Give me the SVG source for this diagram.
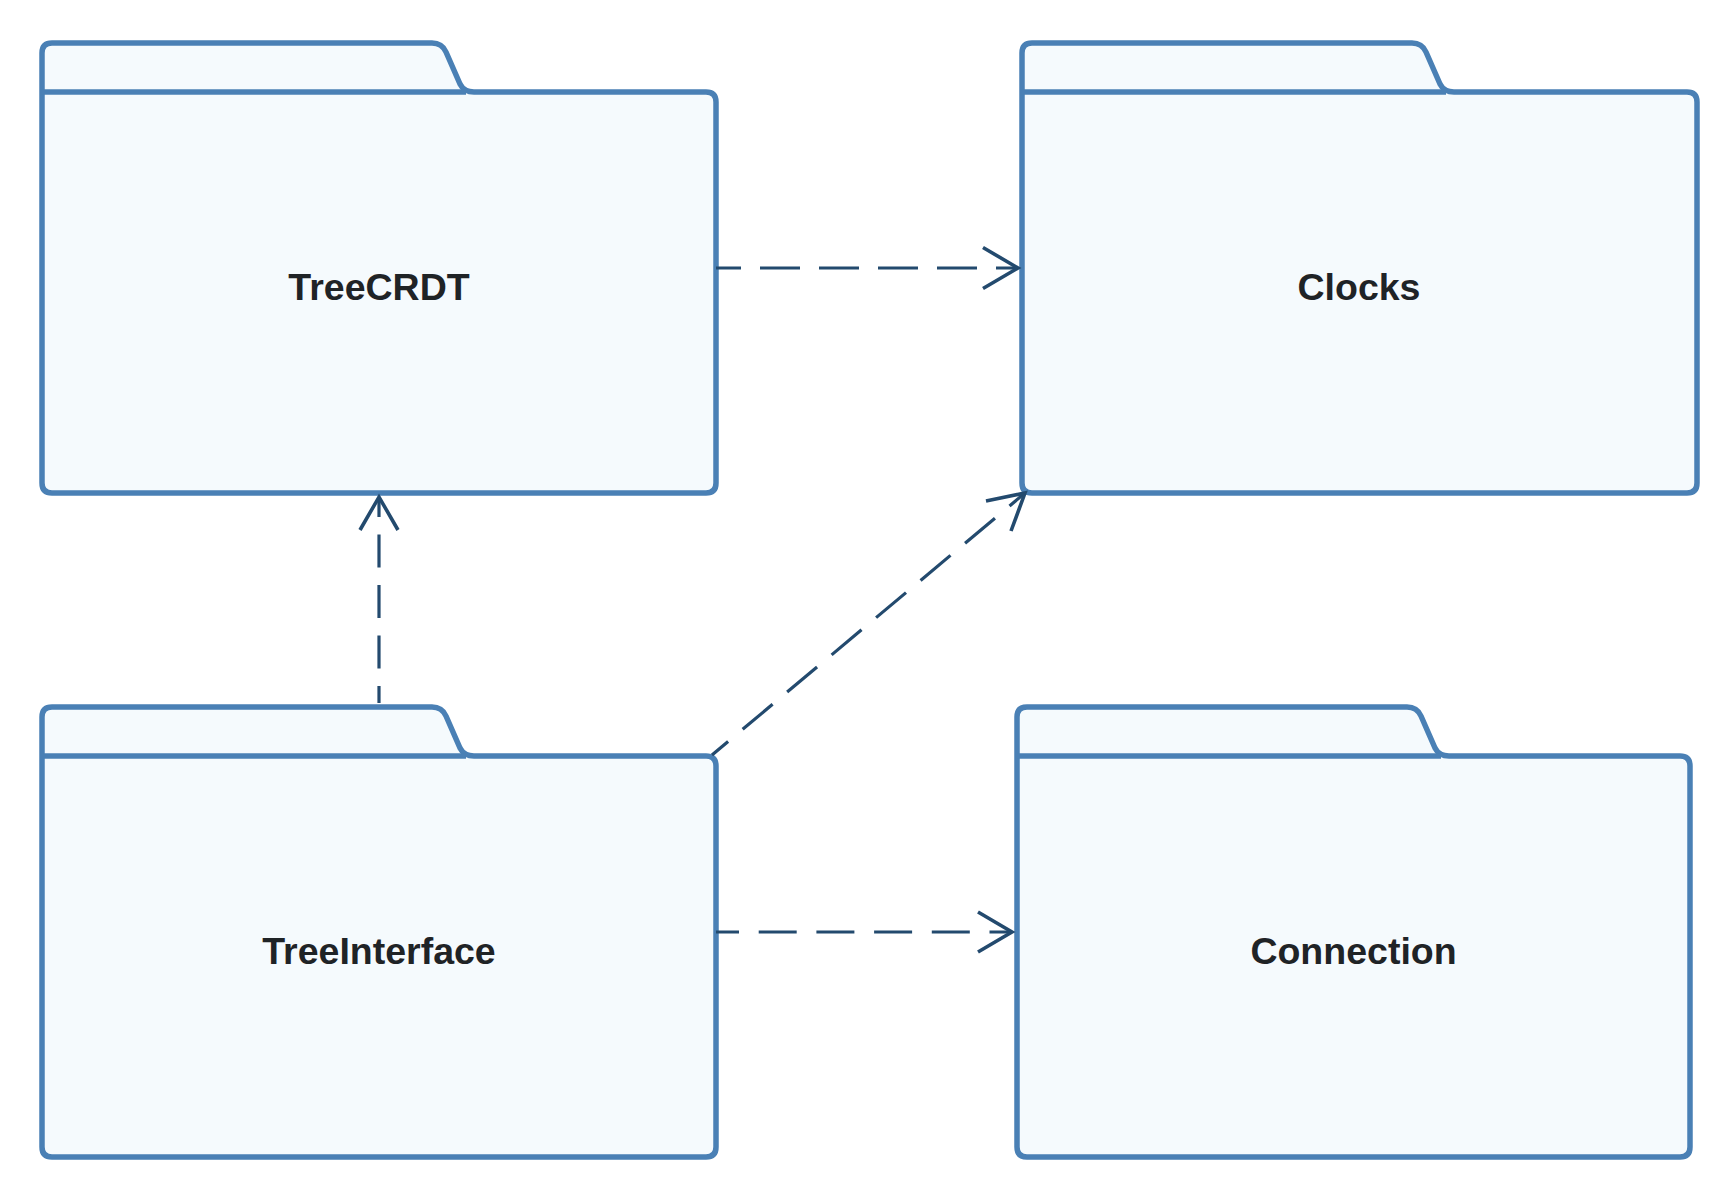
<svg xmlns="http://www.w3.org/2000/svg" width="1731" height="1198" viewBox="0 0 1731 1198">
<style>
.folder{fill:#f5fafd;stroke:#4a80b5;stroke-width:5.5;stroke-linejoin:round}
.divider{fill:none;stroke:#4a80b5;stroke-width:5.5}
.label{font-family:"Liberation Sans",Arial,sans-serif;font-weight:bold;font-size:37.5px;fill:#1f2326;text-anchor:middle}
.conn{fill:none;stroke:#234a6e;stroke-width:3.2}
.head{fill:none;stroke:#234a6e;stroke-width:3.6;stroke-linecap:butt;stroke-linejoin:miter}
</style>
<rect x="0" y="0" width="1731" height="1198" fill="#ffffff"/>
<g id="node-treecrdt">
<path class="folder" d="M42,53 Q42,43 52,43 L432,43 Q442,43 446,52 L460,84 Q464,92 474,92 L706,92 Q716,92 716,102 L716,483 Q716,493 706,493 L52,493 Q42,493 42,483 Z"/>
<path class="divider" d="M42,92 L466,92"/>
<text class="label" x="379" y="299.5">TreeCRDT</text>
</g>
<g id="node-clocks">
<path class="folder" d="M1022,53 Q1022,43 1032,43 L1412,43 Q1422,43 1426,52 L1440,84 Q1444,92 1454,92 L1687,92 Q1697,92 1697,102 L1697,483 Q1697,493 1687,493 L1032,493 Q1022,493 1022,483 Z"/>
<path class="divider" d="M1022,92 L1446,92"/>
<text class="label" x="1359" y="299.5">Clocks</text>
</g>
<g id="node-treeinterface">
<path class="folder" d="M42,717 Q42,707 52,707 L432,707 Q442,707 446,716 L460,748 Q464,756 474,756 L706,756 Q716,756 716,766 L716,1147 Q716,1157 706,1157 L52,1157 Q42,1157 42,1147 Z"/>
<path class="divider" d="M42,756 L466,756"/>
<text class="label" x="379" y="963.5">TreeInterface</text>
</g>
<g id="node-connection">
<path class="folder" d="M1017,717 Q1017,707 1027,707 L1407,707 Q1417,707 1421,716 L1435,748 Q1439,756 1449,756 L1680,756 Q1690,756 1690,766 L1690,1147 Q1690,1157 1680,1157 L1027,1157 Q1017,1157 1017,1147 Z"/>
<path class="divider" d="M1017,756 L1441,756"/>
<text class="label" x="1353.5" y="963.5">Connection</text>
</g>
<g id="connectors">
<path class="conn" d="M716,268 L1018,268" stroke-dasharray="40 19" stroke-dashoffset="15"/>
<polyline class="head" points="983,247.5 1018,268 983,288.5"/>
<path class="conn" d="M716,932 L1012,932" stroke-dasharray="38 19.7" stroke-dashoffset="15"/>
<polyline class="head" points="978,912 1012,932 978,952"/>
<path class="conn" d="M379,703 L379,497" stroke-dasharray="33 17.5" stroke-dashoffset="16"/>
<polyline class="head" points="360,530 379,497 398,530"/>
<path class="conn" d="M712,755 L1025,493" stroke-dasharray="39 19" stroke-dashoffset="18"/>
<polyline class="head" points="986,501 1025,493 1011,531"/>
</g>
</svg>
